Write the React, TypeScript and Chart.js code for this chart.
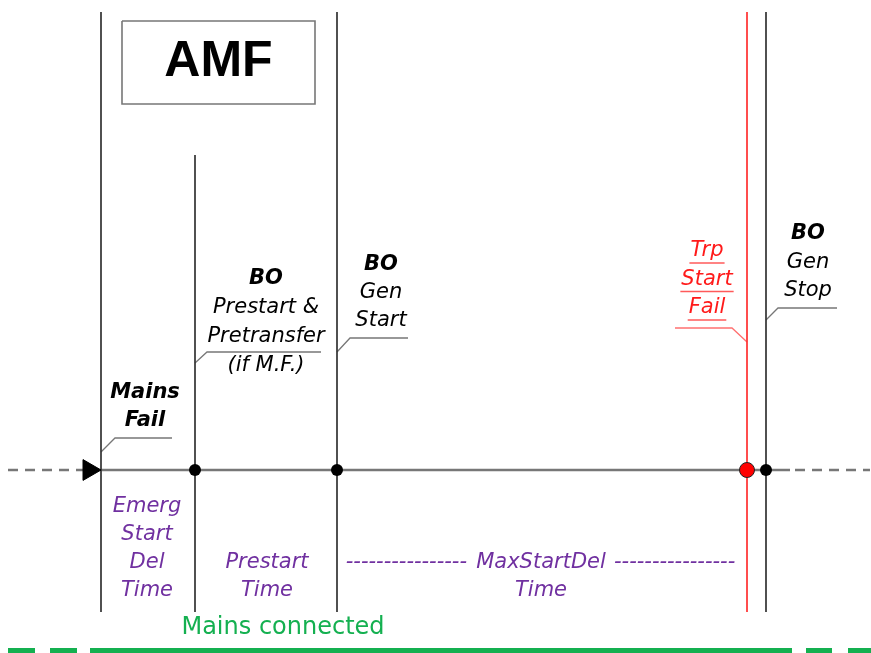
import React, { useEffect, useRef } from "react";
import { Chart, registerables } from "chart.js";

Chart.register(...registerables);

// ---- Data (time positions on the sequence axis, vertical levels on the diagram axis) ----
const eventNames = ["Mains Fail", "BO Prestart", "BO Gen Start", "Trp Start Fail", "BO Gen Stop"];
const eventTimes = [101, 195, 337, 747, 766];
const eventLineTops = [12, 155, 12, 12, 12];
const eventLineBottom = 612;
const eventIsAlarm = [false, false, false, true, false];
const eventHasDot = [false, true, true, true, true];

const timelineLevel = 470;
const timelineStart = 8;
const timelineArrowAt = 89;
const timelineSolidEnd = 790;
const timelineDashResume = 795;
const timelineEnd = 870;

// leader lines: [event anchor level, corner time, corner level, end time]
const leaderAnchorLevels = [452, 363, 352, 342, 320];
const leaderCornerTimes = [115, 207, 350, 732, 778];
const leaderCornerLevels = [438, 352, 338, 328, 308];
const leaderEndTimes = [172, 321, 408, 675, 837];

// Event label texts
const mainsFailLines = ["Mains", "Fail"];
const prestartLines = ["BO", "Prestart &", "Pretransfer", "(if M.F.)"];
const genStartLines = ["BO", "Gen", "Start"];
const trpLines = ["Trp", "Start", "Fail"];
const genStopLines = ["BO", "Gen", "Stop"];

// Interval label texts
const emergLines = ["Emerg", "Start", "Del", "Time"];
const prestartTimeLines = ["Prestart", "Time"];
const maxStartLines = ["MaxStartDel", "Time"];
const mainsConnectedText = "Mains connected";
const titleText = "AMF";

// Mains connected bar segments (time ranges)
const mainsBarLeftDashed = [8, 77];
const mainsBarSolid = [90, 792];
const mainsBarRightDashed = [806, 871];
const mainsBarLevel = 652;

const titleBoxTimes = [122, 315];
const titleBoxLevels = [21, 104];

const FONT = "'DejaVu Sans', 'Liberation Sans', Arial, sans-serif";
const PURPLE = "#7030a0";
const GREEN = "#14b050";
const RED = "#ff1a1a";
const DARK = "#333333";
const GREY = "#777777";

type Block = {
  x: number;
  y: number;
  lh: number;
  lines: string[];
  boldFirst?: boolean;
  allBold?: boolean;
  color: string;
  underline?: boolean;
};

const textPlugin = {
  id: "diagramText",
  afterDatasetsDraw(chart: any) {
    const { ctx, scales } = chart;
    const xs = scales.x;
    const ys = scales.y;
    const X = (v: number) => xs.getPixelForValue(v);
    const Y = (v: number) => ys.getPixelForValue(v);

    const blocks: Block[] = [
      { x: 145, y: 393, lh: 28, lines: mainsFailLines, allBold: true, color: "#000" },
      { x: 266, y: 279, lh: 29, lines: prestartLines, boldFirst: true, color: "#000" },
      { x: 381, y: 265, lh: 28, lines: genStartLines, boldFirst: true, color: "#000" },
      { x: 707, y: 251, lh: 28.5, lines: trpLines, color: RED, underline: true },
      { x: 808, y: 234, lh: 28.5, lines: genStopLines, boldFirst: true, color: "#000" },
      { x: 147, y: 507, lh: 28, lines: emergLines, color: PURPLE },
      { x: 267, y: 563, lh: 28, lines: prestartTimeLines, color: PURPLE },
      { x: 541, y: 563, lh: 28, lines: maxStartLines, color: PURPLE },
    ];

    ctx.save();
    ctx.textAlign = "center";
    ctx.textBaseline = "middle";
    for (const b of blocks) {
      b.lines.forEach((line, i) => {
        const bold = b.allBold || (b.boldFirst && i === 0);
        ctx.font = `italic ${bold ? "bold " : ""}21px ${FONT}`;
        ctx.fillStyle = b.color;
        const px = X(b.x);
        const py = Y(b.y + i * b.lh);
        ctx.fillText(line, px, py);
        if (b.underline) {
          const w = ctx.measureText(line).width;
          ctx.strokeStyle = "#ff5a5a";
          ctx.lineWidth = 1.5;
          ctx.beginPath();
          ctx.moveTo(px - w / 2 - 1, py + 12);
          ctx.lineTo(px + w / 2 + 1, py + 12);
          ctx.stroke();
        }
      });
    }

    // dashes around MaxStartDel
    ctx.font = `italic 21px ${FONT}`;
    ctx.fillStyle = PURPLE;
    const hw = ctx.measureText("-").width;
    const leftEnd = X(467);
    const leftStart = X(eventTimes[2] + 5);
    const rightStart = X(614);
    const rightEnd = X(eventTimes[3] - 8);
    const nL = Math.floor((leftEnd - leftStart) / hw);
    const nR = Math.floor((rightEnd - rightStart) / hw);
    ctx.textAlign = "right";
    ctx.fillText("-".repeat(nL), leftEnd, Y(563));
    ctx.textAlign = "left";
    ctx.fillText("-".repeat(nR), rightStart, Y(563));

    // Mains connected
    ctx.textAlign = "center";
    ctx.font = `24px ${FONT}`;
    ctx.fillStyle = GREEN;
    ctx.fillText(mainsConnectedText, X(283), Y(628));

    // Title
    ctx.font = `bold 50px 'Liberation Sans', Arial, sans-serif`;
    ctx.fillStyle = "#000";
    ctx.fillText(titleText, X((titleBoxTimes[0] + titleBoxTimes[1]) / 2), Y(62));
    ctx.restore();
  },
};

function seg(points: { x: number; y: number }[], color: string, width: number, dash: number[] = []) {
  return {
    data: points,
    showLine: true,
    borderColor: color,
    borderWidth: width,
    borderDash: dash,
    pointRadius: 0,
    pointHoverRadius: 0,
    fill: false,
    clip: false,
    tension: 0,
    borderCapStyle: "butt",
    order: 5,
  };
}

export default function App() {
  const ref = useRef<HTMLCanvasElement | null>(null);

  useEffect(() => {
    if (!ref.current) return;
    const datasets: any[] = [];

    // title box
    datasets.push(
      seg(
        [
          { x: titleBoxTimes[0], y: titleBoxLevels[0] },
          { x: titleBoxTimes[1], y: titleBoxLevels[0] },
          { x: titleBoxTimes[1], y: titleBoxLevels[1] },
          { x: titleBoxTimes[0], y: titleBoxLevels[1] },
          { x: titleBoxTimes[0], y: titleBoxLevels[0] },
        ],
        GREY,
        1.6
      )
    );

    // event vertical lines
    eventTimes.forEach((t, i) => {
      datasets.push(
        seg(
          [
            { x: t, y: eventLineTops[i] },
            { x: t, y: eventLineBottom },
          ],
          eventIsAlarm[i] ? "#ff3030" : DARK,
          1.7
        )
      );
    });

    // leader lines
    eventTimes.forEach((t, i) => {
      datasets.push(
        seg(
          [
            { x: t, y: leaderAnchorLevels[i] },
            { x: leaderCornerTimes[i], y: leaderCornerLevels[i] },
            { x: leaderEndTimes[i], y: leaderCornerLevels[i] },
          ],
          eventIsAlarm[i] ? "#ff7070" : GREY,
          1.3
        )
      );
    });

    // timeline
    datasets.push(
      seg(
        [
          { x: timelineStart, y: timelineLevel },
          { x: timelineArrowAt - 6, y: timelineLevel },
        ],
        GREY,
        2.4,
        [10, 7]
      )
    );
    datasets.push(
      seg(
        [
          { x: eventTimes[0], y: timelineLevel },
          { x: timelineSolidEnd, y: timelineLevel },
        ],
        GREY,
        2.4
      )
    );
    datasets.push(
      seg(
        [
          { x: timelineDashResume, y: timelineLevel },
          { x: timelineEnd, y: timelineLevel },
        ],
        GREY,
        2.4,
        [10, 7]
      )
    );

    // arrow
    datasets.push({
      data: [{ x: timelineArrowAt, y: timelineLevel }],
      showLine: false,
      pointStyle: "triangle",
      rotation: 90,
      pointRadius: 12,
      backgroundColor: "#000",
      borderColor: "#000",
      borderWidth: 1,
      clip: false,
      order: 1,
    });

    // event dots (normal and alarm as separate series)
    const blackDots: any[] = [];
    const redDots: any[] = [];
    eventTimes.forEach((t, i) => {
      if (!eventHasDot[i]) return;
      (eventIsAlarm[i] ? redDots : blackDots).push({ x: t, y: timelineLevel });
    });
    datasets.push({
      data: blackDots,
      showLine: false,
      pointStyle: "circle",
      pointRadius: 6,
      backgroundColor: "#000",
      borderColor: "#000",
      borderWidth: 0,
      clip: false,
      order: 0,
    });
    datasets.push({
      data: redDots,
      showLine: false,
      pointStyle: "circle",
      pointRadius: 7.5,
      backgroundColor: "#ff0000",
      borderColor: "#222",
      borderWidth: 1,
      clip: false,
      order: 0,
    });

    // mains connected bar
    datasets.push(
      seg(
        [
          { x: mainsBarLeftDashed[0], y: mainsBarLevel },
          { x: mainsBarLeftDashed[1], y: mainsBarLevel },
        ],
        GREEN,
        8,
        [27, 15]
      )
    );
    datasets.push(
      seg(
        [
          { x: mainsBarSolid[0], y: mainsBarLevel },
          { x: mainsBarSolid[1], y: mainsBarLevel },
        ],
        GREEN,
        8
      )
    );
    datasets.push(
      seg(
        [
          { x: mainsBarRightDashed[0], y: mainsBarLevel },
          { x: mainsBarRightDashed[1], y: mainsBarLevel },
        ],
        GREEN,
        8,
        [26, 16]
      )
    );

    const chart = new Chart(ref.current, {
      type: "scatter",
      data: { datasets },
      options: {
        animation: false,
        responsive: false,
        events: [],
        layout: { padding: 0, autoPadding: false },
        plugins: {
          legend: { display: false },
          tooltip: { enabled: false },
          title: { display: false },
        },
        scales: {
          x: { type: "linear", min: 0, max: 871, display: false },
          y: { type: "linear", min: 0, max: 653, reverse: true, display: false },
        },
      } as any,
      plugins: [textPlugin],
    });
    return () => chart.destroy();
  }, []);

  return (
    <div style={{ position: "fixed", left: 0, top: 0, width: 871, height: 653, background: "#fff" }}>
      <canvas ref={ref} width={871} height={653} aria-label={eventNames.join(", ")} />
    </div>
  );
}
